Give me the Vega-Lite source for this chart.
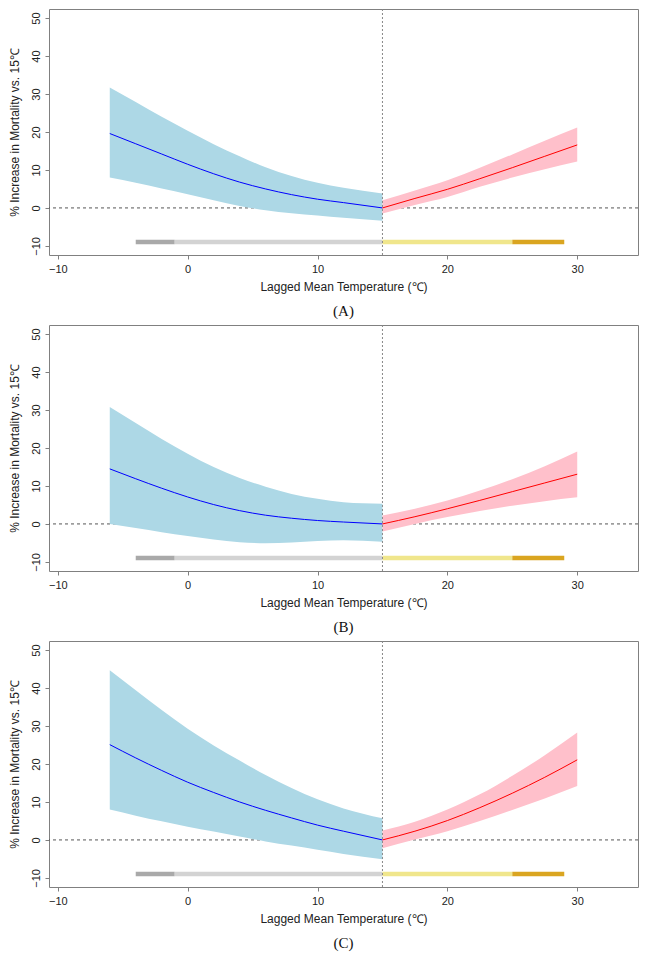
{
  "$schema": "https://vega.github.io/schema/vega-lite/v6.json",
  "padding": {"left": 7, "top": 8, "right": 6, "bottom": 5},
  "background": "white",
  "datasets": {
    "curves": [
      {"panel": "A", "side": "cold", "t": -6, "fit": 19.6, "lo": 8.0, "hi": 31.7},
      {"panel": "A", "side": "cold", "t": -4, "fit": 16.9, "lo": 6.6, "hi": 27.9},
      {"panel": "A", "side": "cold", "t": -2, "fit": 14.2, "lo": 5.1, "hi": 24.0},
      {"panel": "A", "side": "cold", "t": 0, "fit": 11.5, "lo": 3.6, "hi": 20.3},
      {"panel": "A", "side": "cold", "t": 2, "fit": 9.0, "lo": 2.0, "hi": 16.8},
      {"panel": "A", "side": "cold", "t": 4, "fit": 6.8, "lo": 0.5, "hi": 13.6},
      {"panel": "A", "side": "cold", "t": 6, "fit": 5.0, "lo": -0.6, "hi": 10.7},
      {"panel": "A", "side": "cold", "t": 8, "fit": 3.5, "lo": -1.4, "hi": 8.4},
      {"panel": "A", "side": "cold", "t": 10, "fit": 2.3, "lo": -2.0, "hi": 6.6},
      {"panel": "A", "side": "cold", "t": 12, "fit": 1.4, "lo": -2.6, "hi": 5.3},
      {"panel": "A", "side": "cold", "t": 15, "fit": 0.0, "lo": -3.4, "hi": 3.8},
      {"panel": "A", "side": "hot", "t": 15, "fit": 0.0, "lo": -1.5, "hi": 2.0},
      {"panel": "A", "side": "hot", "t": 17.5, "fit": 2.5, "lo": 0.8, "hi": 4.6},
      {"panel": "A", "side": "hot", "t": 20, "fit": 4.9, "lo": 2.9, "hi": 7.3},
      {"panel": "A", "side": "hot", "t": 22.5, "fit": 7.7, "lo": 5.6, "hi": 10.6},
      {"panel": "A", "side": "hot", "t": 25, "fit": 10.6, "lo": 8.0, "hi": 14.1},
      {"panel": "A", "side": "hot", "t": 27.5, "fit": 13.6, "lo": 10.2, "hi": 17.7},
      {"panel": "A", "side": "hot", "t": 30, "fit": 16.6, "lo": 12.2, "hi": 21.2},
      {"panel": "B", "side": "cold", "t": -6, "fit": 14.5, "lo": 0.0, "hi": 30.8},
      {"panel": "B", "side": "cold", "t": -4, "fit": 11.9, "lo": -1.1, "hi": 26.6},
      {"panel": "B", "side": "cold", "t": -2, "fit": 9.4, "lo": -2.2, "hi": 22.4},
      {"panel": "B", "side": "cold", "t": 0, "fit": 7.1, "lo": -3.2, "hi": 18.5},
      {"panel": "B", "side": "cold", "t": 2, "fit": 5.1, "lo": -4.1, "hi": 15.0},
      {"panel": "B", "side": "cold", "t": 4, "fit": 3.5, "lo": -4.8, "hi": 12.1},
      {"panel": "B", "side": "cold", "t": 6, "fit": 2.3, "lo": -5.1, "hi": 9.8},
      {"panel": "B", "side": "cold", "t": 8, "fit": 1.5, "lo": -4.9, "hi": 7.9},
      {"panel": "B", "side": "cold", "t": 10, "fit": 0.9, "lo": -4.5, "hi": 6.6},
      {"panel": "B", "side": "cold", "t": 12, "fit": 0.5, "lo": -4.3, "hi": 5.7},
      {"panel": "B", "side": "cold", "t": 15, "fit": 0.0, "lo": -4.7, "hi": 5.3},
      {"panel": "B", "side": "hot", "t": 15, "fit": 0.0, "lo": -2.0, "hi": 2.2},
      {"panel": "B", "side": "hot", "t": 17.5, "fit": 1.9, "lo": 0.0, "hi": 4.0},
      {"panel": "B", "side": "hot", "t": 20, "fit": 4.0, "lo": 1.8, "hi": 6.2},
      {"panel": "B", "side": "hot", "t": 22.5, "fit": 6.2, "lo": 3.4, "hi": 8.8},
      {"panel": "B", "side": "hot", "t": 25, "fit": 8.5, "lo": 4.8, "hi": 11.8},
      {"panel": "B", "side": "hot", "t": 27.5, "fit": 10.8, "lo": 6.0, "hi": 15.2},
      {"panel": "B", "side": "hot", "t": 30, "fit": 13.1, "lo": 7.0, "hi": 19.1},
      {"panel": "C", "side": "cold", "t": -6, "fit": 25.1, "lo": 8.0, "hi": 44.7},
      {"panel": "C", "side": "cold", "t": -4, "fit": 21.6, "lo": 6.4, "hi": 39.4},
      {"panel": "C", "side": "cold", "t": -2, "fit": 18.3, "lo": 4.9, "hi": 34.2},
      {"panel": "C", "side": "cold", "t": 0, "fit": 15.2, "lo": 3.5, "hi": 29.3},
      {"panel": "C", "side": "cold", "t": 2, "fit": 12.5, "lo": 2.2, "hi": 24.9},
      {"panel": "C", "side": "cold", "t": 4, "fit": 10.0, "lo": 0.9, "hi": 20.9},
      {"panel": "C", "side": "cold", "t": 6, "fit": 7.8, "lo": -0.4, "hi": 17.1},
      {"panel": "C", "side": "cold", "t": 8, "fit": 5.8, "lo": -1.5, "hi": 13.7},
      {"panel": "C", "side": "cold", "t": 10, "fit": 3.9, "lo": -2.6, "hi": 10.7},
      {"panel": "C", "side": "cold", "t": 12, "fit": 2.3, "lo": -3.7, "hi": 8.3},
      {"panel": "C", "side": "cold", "t": 15, "fit": 0.0, "lo": -5.1, "hi": 5.7},
      {"panel": "C", "side": "hot", "t": 15, "fit": 0.0, "lo": -2.2, "hi": 2.5},
      {"panel": "C", "side": "hot", "t": 17.5, "fit": 2.3, "lo": 0.1, "hi": 4.8},
      {"panel": "C", "side": "hot", "t": 20, "fit": 5.1, "lo": 2.3, "hi": 8.0},
      {"panel": "C", "side": "hot", "t": 22.5, "fit": 8.5, "lo": 5.0, "hi": 12.0},
      {"panel": "C", "side": "hot", "t": 25, "fit": 12.3, "lo": 7.9, "hi": 16.9},
      {"panel": "C", "side": "hot", "t": 27.5, "fit": 16.5, "lo": 10.9, "hi": 22.3},
      {"panel": "C", "side": "hot", "t": 30, "fit": 21.1, "lo": 14.2, "hi": 28.3}
    ],
    "bars": [
      {"seg": "1", "start": -4, "end": -1, "level": -9},
      {"seg": "2", "start": -1, "end": 15, "level": -9},
      {"seg": "3", "start": 15, "end": 25, "level": -9},
      {"seg": "4", "start": 25, "end": 29, "level": -9}
    ]
  },
  "vconcat": [
    {
      "width": 589, "height": 246,
      "title": {"text": "(A)", "orient": "bottom", "frame": "group", "anchor": "middle", "offset": 12, "font": "Liberation Serif", "fontSize": 15, "fontWeight": "normal", "color": "#111"},
      "layer": [
        {"data": {"values": [{}]}, "mark": {"type": "rule", "strokeDash": [3, 3], "color": "#555", "strokeWidth": 1},
         "encoding": {"y": {"datum": 0, "type": "quantitative", "scale": {"domain": [-12.4, 52.4], "nice": false, "zero": false}}}},
        {"data": {"name": "curves"}, "transform": [{"filter": "datum.panel == 'A'"}], "mark": {"type": "area", "opacity": 1, "interpolate": "monotone"},
         "encoding": {
           "x": {"field": "t", "type": "quantitative", "scale": {"domain": [-10.68, 34.68], "nice": false, "zero": false}, "axis": {"values": [-10, 0, 10, 20, 30], "title": "Lagged Mean Temperature (℃)"}},
           "y": {"field": "lo", "type": "quantitative", "scale": {"domain": [-12.4, 52.4], "nice": false, "zero": false}, "axis": {"values": [-10, 0, 10, 20, 30, 40, 50], "title": "% Increase in Mortality vs. 15℃"}},
           "y2": {"field": "hi"},
           "fill": {"field": "side", "type": "nominal", "scale": {"domain": ["cold", "hot"], "range": ["#ADD8E6", "#FFC0CB"]}, "legend": null}
         }},
        {"data": {"name": "curves"}, "transform": [{"filter": "datum.panel == 'A'"}], "mark": {"type": "line", "strokeWidth": 1, "interpolate": "monotone"},
         "encoding": {
           "x": {"field": "t", "type": "quantitative", "scale": {"domain": [-10.68, 34.68], "nice": false, "zero": false}, "axis": {"values": [-10, 0, 10, 20, 30], "title": "Lagged Mean Temperature (℃)"}},
           "y": {"field": "fit", "type": "quantitative", "scale": {"domain": [-12.4, 52.4], "nice": false, "zero": false}, "axis": {"values": [-10, 0, 10, 20, 30, 40, 50], "title": "% Increase in Mortality vs. 15℃"}},
           "stroke": {"field": "side", "type": "nominal", "scale": {"domain": ["cold", "hot"], "range": ["#0000FF", "#FF0000"]}, "legend": null}
         }},
        {"data": {"name": "bars"}, "mark": {"type": "rule", "strokeWidth": 4.5, "strokeCap": "butt"},
         "encoding": {
           "x": {"field": "start", "type": "quantitative", "scale": {"domain": [-10.68, 34.68], "nice": false, "zero": false}, "axis": {"values": [-10, 0, 10, 20, 30], "title": "Lagged Mean Temperature (℃)"}},
           "x2": {"field": "end"},
           "y": {"field": "level", "type": "quantitative", "scale": {"domain": [-12.4, 52.4], "nice": false, "zero": false}, "axis": {"values": [-10, 0, 10, 20, 30, 40, 50], "title": "% Increase in Mortality vs. 15℃"}},
           "color": {"condition": [{"test": "datum.seg == '1'", "value": "#A9A9A9"}, {"test": "datum.seg == '2'", "value": "#D3D3D3"}, {"test": "datum.seg == '3'", "value": "#F0E68C"}], "value": "#DAA520"}
         }},
        {"data": {"values": [{}]}, "mark": {"type": "rule", "strokeDash": [2, 2], "color": "#888", "strokeWidth": 1},
         "encoding": {"x": {"datum": 15, "type": "quantitative", "scale": {"domain": [-10.68, 34.68], "nice": false, "zero": false}}}}
      ]
    },
    {
      "width": 589, "height": 246,
      "title": {"text": "(B)", "orient": "bottom", "frame": "group", "anchor": "middle", "offset": 12, "font": "Liberation Serif", "fontSize": 15, "fontWeight": "normal", "color": "#111"},
      "layer": [
        {"data": {"values": [{}]}, "mark": {"type": "rule", "strokeDash": [3, 3], "color": "#555", "strokeWidth": 1},
         "encoding": {"y": {"datum": 0, "type": "quantitative", "scale": {"domain": [-12.4, 52.4], "nice": false, "zero": false}}}},
        {"data": {"name": "curves"}, "transform": [{"filter": "datum.panel == 'B'"}], "mark": {"type": "area", "opacity": 1, "interpolate": "monotone"},
         "encoding": {
           "x": {"field": "t", "type": "quantitative", "scale": {"domain": [-10.68, 34.68], "nice": false, "zero": false}, "axis": {"values": [-10, 0, 10, 20, 30], "title": "Lagged Mean Temperature (℃)"}},
           "y": {"field": "lo", "type": "quantitative", "scale": {"domain": [-12.4, 52.4], "nice": false, "zero": false}, "axis": {"values": [-10, 0, 10, 20, 30, 40, 50], "title": "% Increase in Mortality vs. 15℃"}},
           "y2": {"field": "hi"},
           "fill": {"field": "side", "type": "nominal", "scale": {"domain": ["cold", "hot"], "range": ["#ADD8E6", "#FFC0CB"]}, "legend": null}
         }},
        {"data": {"name": "curves"}, "transform": [{"filter": "datum.panel == 'B'"}], "mark": {"type": "line", "strokeWidth": 1, "interpolate": "monotone"},
         "encoding": {
           "x": {"field": "t", "type": "quantitative", "scale": {"domain": [-10.68, 34.68], "nice": false, "zero": false}, "axis": {"values": [-10, 0, 10, 20, 30], "title": "Lagged Mean Temperature (℃)"}},
           "y": {"field": "fit", "type": "quantitative", "scale": {"domain": [-12.4, 52.4], "nice": false, "zero": false}, "axis": {"values": [-10, 0, 10, 20, 30, 40, 50], "title": "% Increase in Mortality vs. 15℃"}},
           "stroke": {"field": "side", "type": "nominal", "scale": {"domain": ["cold", "hot"], "range": ["#0000FF", "#FF0000"]}, "legend": null}
         }},
        {"data": {"name": "bars"}, "mark": {"type": "rule", "strokeWidth": 4.5, "strokeCap": "butt"},
         "encoding": {
           "x": {"field": "start", "type": "quantitative", "scale": {"domain": [-10.68, 34.68], "nice": false, "zero": false}, "axis": {"values": [-10, 0, 10, 20, 30], "title": "Lagged Mean Temperature (℃)"}},
           "x2": {"field": "end"},
           "y": {"field": "level", "type": "quantitative", "scale": {"domain": [-12.4, 52.4], "nice": false, "zero": false}, "axis": {"values": [-10, 0, 10, 20, 30, 40, 50], "title": "% Increase in Mortality vs. 15℃"}},
           "color": {"condition": [{"test": "datum.seg == '1'", "value": "#A9A9A9"}, {"test": "datum.seg == '2'", "value": "#D3D3D3"}, {"test": "datum.seg == '3'", "value": "#F0E68C"}], "value": "#DAA520"}
         }},
        {"data": {"values": [{}]}, "mark": {"type": "rule", "strokeDash": [2, 2], "color": "#888", "strokeWidth": 1},
         "encoding": {"x": {"datum": 15, "type": "quantitative", "scale": {"domain": [-10.68, 34.68], "nice": false, "zero": false}}}}
      ]
    },
    {
      "width": 589, "height": 246,
      "title": {"text": "(C)", "orient": "bottom", "frame": "group", "anchor": "middle", "offset": 12, "font": "Liberation Serif", "fontSize": 15, "fontWeight": "normal", "color": "#111"},
      "layer": [
        {"data": {"values": [{}]}, "mark": {"type": "rule", "strokeDash": [3, 3], "color": "#555", "strokeWidth": 1},
         "encoding": {"y": {"datum": 0, "type": "quantitative", "scale": {"domain": [-12.4, 52.4], "nice": false, "zero": false}}}},
        {"data": {"name": "curves"}, "transform": [{"filter": "datum.panel == 'C'"}], "mark": {"type": "area", "opacity": 1, "interpolate": "monotone"},
         "encoding": {
           "x": {"field": "t", "type": "quantitative", "scale": {"domain": [-10.68, 34.68], "nice": false, "zero": false}, "axis": {"values": [-10, 0, 10, 20, 30], "title": "Lagged Mean Temperature (℃)"}},
           "y": {"field": "lo", "type": "quantitative", "scale": {"domain": [-12.4, 52.4], "nice": false, "zero": false}, "axis": {"values": [-10, 0, 10, 20, 30, 40, 50], "title": "% Increase in Mortality vs. 15℃"}},
           "y2": {"field": "hi"},
           "fill": {"field": "side", "type": "nominal", "scale": {"domain": ["cold", "hot"], "range": ["#ADD8E6", "#FFC0CB"]}, "legend": null}
         }},
        {"data": {"name": "curves"}, "transform": [{"filter": "datum.panel == 'C'"}], "mark": {"type": "line", "strokeWidth": 1, "interpolate": "monotone"},
         "encoding": {
           "x": {"field": "t", "type": "quantitative", "scale": {"domain": [-10.68, 34.68], "nice": false, "zero": false}, "axis": {"values": [-10, 0, 10, 20, 30], "title": "Lagged Mean Temperature (℃)"}},
           "y": {"field": "fit", "type": "quantitative", "scale": {"domain": [-12.4, 52.4], "nice": false, "zero": false}, "axis": {"values": [-10, 0, 10, 20, 30, 40, 50], "title": "% Increase in Mortality vs. 15℃"}},
           "stroke": {"field": "side", "type": "nominal", "scale": {"domain": ["cold", "hot"], "range": ["#0000FF", "#FF0000"]}, "legend": null}
         }},
        {"data": {"name": "bars"}, "mark": {"type": "rule", "strokeWidth": 4.5, "strokeCap": "butt"},
         "encoding": {
           "x": {"field": "start", "type": "quantitative", "scale": {"domain": [-10.68, 34.68], "nice": false, "zero": false}, "axis": {"values": [-10, 0, 10, 20, 30], "title": "Lagged Mean Temperature (℃)"}},
           "x2": {"field": "end"},
           "y": {"field": "level", "type": "quantitative", "scale": {"domain": [-12.4, 52.4], "nice": false, "zero": false}, "axis": {"values": [-10, 0, 10, 20, 30, 40, 50], "title": "% Increase in Mortality vs. 15℃"}},
           "color": {"condition": [{"test": "datum.seg == '1'", "value": "#A9A9A9"}, {"test": "datum.seg == '2'", "value": "#D3D3D3"}, {"test": "datum.seg == '3'", "value": "#F0E68C"}], "value": "#DAA520"}
         }},
        {"data": {"values": [{}]}, "mark": {"type": "rule", "strokeDash": [2, 2], "color": "#888", "strokeWidth": 1},
         "encoding": {"x": {"datum": 15, "type": "quantitative", "scale": {"domain": [-10.68, 34.68], "nice": false, "zero": false}}}}
      ]
    }
  ],
  "spacing": 70,
  "bounds": "flush",
  "config": {
    "view": {"stroke": "#808080", "strokeWidth": 1},
    "axis": {"grid": false, "domain": false, "tickColor": "#808080", "tickSize": 4, "labelFont": "Liberation Sans", "labelFontSize": 11, "labelColor": "#222", "titleFont": "Liberation Sans", "titleFontSize": 12, "titleFontWeight": "normal", "titleColor": "#222"},
    "axisX": {"labelPadding": 4, "titlePadding": 7},
    "axisY": {"labelAngle": -90, "labelAlign": "center", "labelBaseline": "bottom", "labelPadding": 4, "titlePadding": 8, "minExtent": 20, "maxExtent": 20}
  }
}
